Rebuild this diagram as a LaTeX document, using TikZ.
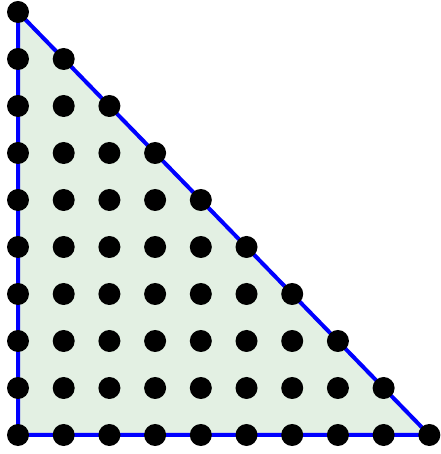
\documentclass[tikz,border=0pt]{standalone}
\usetikzlibrary{positioning}

\definecolor{trifill}{RGB}{227,240,227}

\begin{document}
\begin{tikzpicture}[
  x=45.7pt, y=47pt,
  dot/.style={circle, fill=black, inner sep=0pt, minimum size=22pt},
  edgeline/.style={draw=blue, line width=4pt, line join=miter, fill=trifill}
]
  \useasboundingbox (-18pt,-19pt) rectangle (422pt,435pt);
  \coordinate (O) at (0,0);
  \coordinate (X) at (9,0);
  \coordinate (Y) at (0,9);

  \path[edgeline] (O) -- (X) -- (Y) -- cycle;

  \foreach \i in {0,...,9} {
    \pgfmathtruncatemacro{\jmax}{9-\i}
    \foreach \j in {0,...,\jmax}
      \node[dot] (p-\i-\j) at (\i,\j) {};
  }
\end{tikzpicture}
\end{document}
